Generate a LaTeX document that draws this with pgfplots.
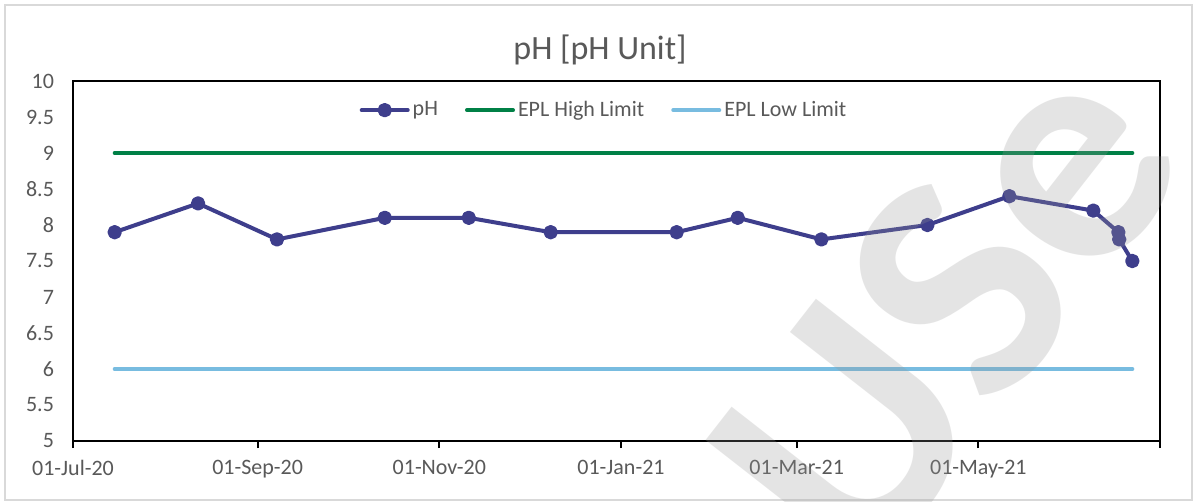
\documentclass[border=0pt]{standalone}
\usepackage{pgfplots}
\pgfplotsset{compat=1.18}
\usepackage{fontspec}
\setmainfont{Carlito}
\definecolor{phc}{RGB}{62,62,140}
\definecolor{hic}{RGB}{0,128,70}
\definecolor{loc}{RGB}{120,188,224}
\definecolor{txt}{RGB}{89,89,89}
\definecolor{frame}{RGB}{217,217,217}
\definecolor{wm}{RGB}{150,150,150}
\begin{document}
\begin{tikzpicture}
\useasboundingbox (-36.5pt,-30.5pt) rectangle (562pt,220.5pt);
\fill[white] (-36.5pt,-30.5pt) rectangle (562pt,220.5pt);
\draw[frame, line width=1pt] (-34pt,-29.5pt) rectangle (559.5pt,218pt);
\begin{axis}[
  at={(0pt,0pt)}, anchor=south west,
  scale only axis, width=543.5pt, height=180pt,
  xmin=0, xmax=365, ymin=5, ymax=10,
  xtick={0,62,123,184,243,304,365},
  xticklabels={01-Jul-20,01-Sep-20,01-Nov-20,01-Jan-21,01-Mar-21,01-May-21,{}},
  ytick={5,5.5,6,6.5,7,7.5,8,8.5,9,9.5,10},
  /pgf/number format/assume math mode=true,
  tick label style={font=\fontsize{11}{13}\selectfont, text=txt},
  xticklabel style={yshift=-2.5pt},
  yticklabel style={xshift=-2.5pt},
  axis line style={black, line width=0.9pt},
  tick align=outside, major tick length=3.5pt,
  xtick pos=bottom, ytick pos=left,
  xtick style={black, line width=0.9pt},
  ytick style={draw=none},
  legend style={at={(0.489,0.919)}, anchor=center, draw=none, fill=none,
    legend columns=3, font=\fontsize{11}{13}\selectfont, text=txt,
    /tikz/every even column/.append style={column sep=12pt},
    nodes={inner sep=1.5pt}},
  legend image code/.code={\draw[mark repeat=2, mark phase=2, #1] plot coordinates {(0pt,0pt) (11.5pt,0pt) (23pt,0pt)};},
]
\addplot[phc, line width=2pt, line cap=round, line join=round, mark=*, mark size=2.6pt, mark options={solid, fill=phc}] coordinates {
(14,7.9) (42,8.3) (68.5,7.8) (104.7,8.1) (132.9,8.1) (160.4,7.9) (202.7,7.9) (223.2,8.1) (251.3,7.8) (286.9,8.0) (314.4,8.4) (342.6,8.2) (351,7.9) (351.3,7.8) (355.7,7.5)
};
\addlegendentry{pH}
\addplot[hic, line width=2pt, line cap=round] coordinates {(14,9) (355.7,9)};
\addlegendentry{EPL High Limit}
\addplot[loc, line width=2pt, line cap=round] coordinates {(14,6) (355.7,6)};
\addlegendentry{EPL Low Limit}
\end{axis}
\node[text=txt, font=\fontsize{17}{20}\selectfont] at (263.5pt,195.5pt) {pH [pH Unit]};
\node[rotate=52, text=wm, text opacity=0.25, font=\fontsize{165}{165}\selectfont\bfseries] at (436pt,66pt) {USe};
\end{tikzpicture}
\end{document}
